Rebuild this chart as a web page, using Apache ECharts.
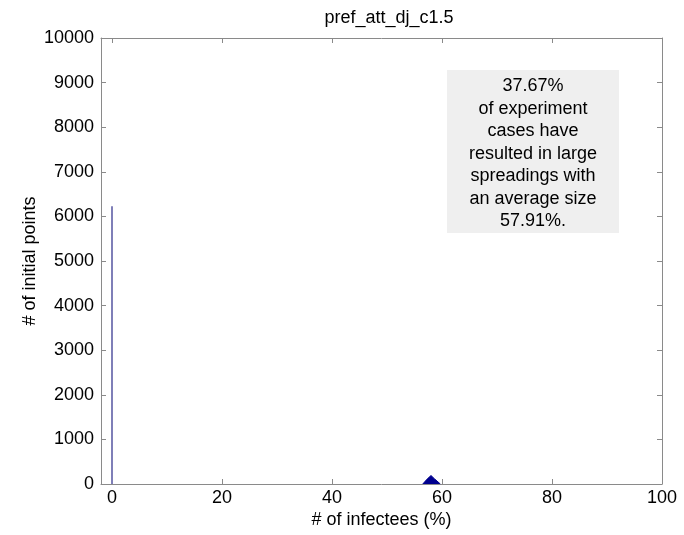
<!DOCTYPE html>
<html><head><meta charset="utf-8">
<script src="https://cdn.jsdelivr.net/npm/echarts@6/dist/echarts.min.js"></script>
<style>html,body{margin:0;padding:0;background:#fff}#c{width:684px;height:535px}</style>
</head><body><div id="c"></div>
<script>
// data
var spikeX = [0, 0];
var spikeY = [0, 6230];
var peakX = [56.5, 57.3, 58.0, 58.6, 59.7];
var peakY = [0, 110, 190, 120, 0];
var xTicks = [0, 20, 40, 60, 80, 100];
var yTicks = [0, 1000, 2000, 3000, 4000, 5000, 6000, 7000, 8000, 9000, 10000];
var titleText = 'pref_att_dj_c1.5';
var noteLines = ['37.67%', 'of experiment', 'cases have', 'resulted in large', 'spreadings with', 'an average size', '57.91%.'];

var chart = echarts.init(document.getElementById('c'));
var font = 'Liberation Sans, Arial, sans-serif';
var axisCol = '#8a8a8a';
function zip(a, b) { return a.map(function (v, i) { return [v, b[i]]; }); }
function plain(v) { return String(v); }

chart.setOption({
  animation: false,
  title: { text: titleText, left: 384, top: 4, textAlign: 'center',
    textStyle: { fontFamily: font, fontSize: 18, fontWeight: 'normal', color: '#000' } },
  grid: { left: 101, right: 22, top: 38, bottom: 51 },
  xAxis: [{
    type: 'value', min: -2, max: 100, position: 'bottom',
    name: '# of infectees (%)', nameLocation: 'middle', nameGap: 27, nameMoveOverlap: false,
    nameTextStyle: { fontFamily: font, fontSize: 18, color: '#000' },
    axisLine: { onZero: false, lineStyle: { color: axisCol } },
    axisTick: { inside: true, length: 5, customValues: xTicks, lineStyle: { color: axisCol } },
    axisLabel: { customValues: xTicks, formatter: plain, fontFamily: font, fontSize: 18, color: '#000', margin: 5 },
    splitLine: { show: false }
  }, {
    type: 'value', min: -2, max: 100, position: 'top',
    axisLine: { onZero: false, lineStyle: { color: axisCol } },
    axisTick: { inside: true, length: 5, customValues: xTicks, lineStyle: { color: axisCol } },
    axisLabel: { show: false }, splitLine: { show: false }
  }],
  yAxis: [{
    type: 'value', min: 0, max: 10000, interval: 1000, position: 'left',
    name: '# of initial points', nameLocation: 'middle', nameGap: 62, nameMoveOverlap: false,
    nameTextStyle: { fontFamily: font, fontSize: 18, color: '#000' },
    axisLine: { show: true, onZero: false, lineStyle: { color: axisCol } },
    axisTick: { show: true, inside: true, length: 5, lineStyle: { color: axisCol } },
    axisLabel: { formatter: plain, fontFamily: font, fontSize: 18, color: '#000', margin: 7 },
    splitLine: { show: false }
  }, {
    type: 'value', min: 0, max: 10000, interval: 1000, position: 'right',
    axisLine: { show: true, onZero: false, lineStyle: { color: axisCol } },
    axisTick: { show: true, inside: true, length: 5, lineStyle: { color: axisCol } },
    axisLabel: { show: false }, splitLine: { show: false }
  }],
  series: [{
    type: 'line', data: zip(spikeX, spikeY), symbol: 'none',
    lineStyle: { color: '#7f7fb8', width: 2 }
  }, {
    type: 'line', data: zip(peakX, peakY), symbol: 'none',
    lineStyle: { color: '#00008f', width: 1 },
    areaStyle: { color: '#00008f', opacity: 1 }
  }],
  graphic: [{
    type: 'group', left: 447, top: 70,
    children: [{
      type: 'rect', shape: { x: 0, y: 0, width: 172, height: 163 },
      style: { fill: '#efefef' }
    }, {
      type: 'text', x: 86, y: 5,
      style: { text: noteLines.join('\n'), font: '18px ' + font, fill: '#000',
        align: 'center', verticalAlign: 'top', lineHeight: 22.5 }
    }]
  }]
});
</script></body></html>
